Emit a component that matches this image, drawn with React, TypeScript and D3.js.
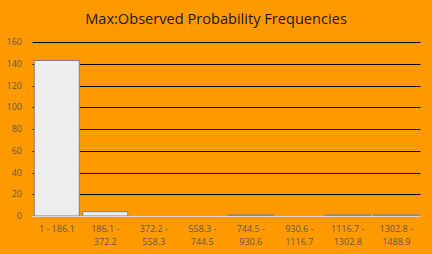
import React from "react";
import * as d3 from "d3";

const categories = [
  "1 - 186.1",
  "186.1 - 372.2",
  "372.2 - 558.3",
  "558.3 - 744.5",
  "744.5 - 930.6",
  "930.6 - 1116.7",
  "1116.7 - 1302.8",
  "1302.8 - 1488.9",
];
const frequencies = [143, 4, 0, 0, 1, 0, 1, 1];
const yTicks = [0, 20, 40, 60, 80, 100, 120, 140, 160];
const title = "Max:Observed Probability Frequencies";

const W = 432;
const H = 254;
const FONT = "'Open Sans', 'Liberation Sans', sans-serif";

let ctx: CanvasRenderingContext2D | null = null;
function measure(t: string, size: number) {
  if (!ctx) ctx = document.createElement("canvas").getContext("2d");
  ctx!.font = `${size}px ${FONT}`;
  return ctx!.measureText(t).width;
}
function wrap(label: string, maxW: number, size: number) {
  const words = label.split(" ");
  const lines: string[] = [];
  let cur = "";
  for (const w of words) {
    const test = cur ? cur + " " + w : w;
    if (cur && measure(test, size) > maxW) {
      lines.push(cur);
      cur = w;
    } else cur = test;
  }
  if (cur) lines.push(cur);
  return lines;
}

export default function App() {
  const left = 32.5;
  const right = 420.5;
  const top = 42;
  const bottom = 216;
  const x = d3.scaleBand<string>().domain(categories).range([left, right]).paddingInner(0.05).paddingOuter(0.025);
  const y = d3.scaleLinear().domain([0, 160]).range([bottom, top]);
  const labelSize = 9;
  return (
    <svg width={W} height={H} style={{ position: "absolute", left: 0, top: 0 }} fontFamily={FONT}>
      <rect x={0} y={0} width={W} height={H} fill="#FF9900" />
      <text x={216} y={23.5} textAnchor="middle" fontSize={14.6} fill="#1a1a1a">
        {title}
      </text>
      {yTicks.map((t) => (
        <g key={t}>
          {t !== 0 && (
            <line x1={left} x2={right} y1={Math.round(y(t)) + 0.5} y2={Math.round(y(t)) + 0.5} stroke="#000" strokeWidth={1} />
          )}
          <text x={22} y={y(t)} dy="0.35em" textAnchor="end" fontSize={labelSize} fill="#595959">
            {t}
          </text>
        </g>
      ))}
      {categories.map((c, i) => {
        const v = frequencies[i];
        if (v <= 0) return null;
        return (
          <rect
            key={c}
            x={x(c)! + 0.5}
            y={y(v)}
            width={x.bandwidth() - 1}
            height={bottom - y(v)}
            fill="#EDEDED"
            stroke="#7F7F7F"
            strokeWidth={1}
          />
        );
      })}
      <line x1={left} x2={right} y1={bottom + 0.5} y2={bottom + 0.5} stroke="#D9D9D9" strokeWidth={1} />
      {categories.map((c) => {
        const lines = wrap(c, x.step() - 4, labelSize);
        const cx = x(c)! + x.bandwidth() / 2;
        return (
          <text key={c} textAnchor="middle" fontSize={labelSize} fill="#595959">
            {lines.map((l, j) => (
              <tspan key={j} x={cx} y={232 + j * 13}>
                {l}
              </tspan>
            ))}
          </text>
        );
      })}
    </svg>
  );
}
